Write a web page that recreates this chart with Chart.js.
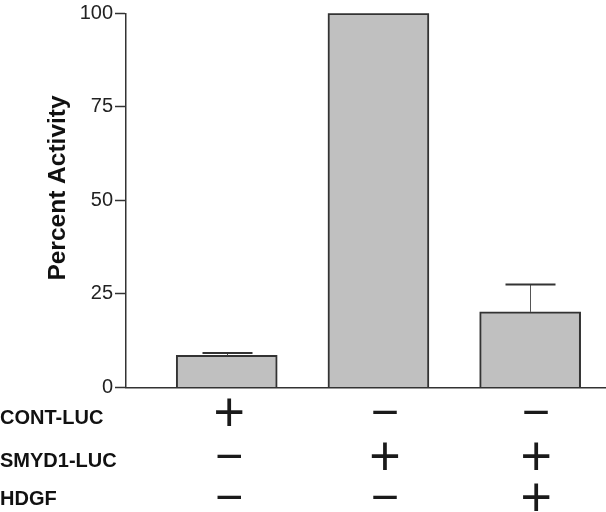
<!DOCTYPE html>
<html>
<head>
<meta charset="utf-8">
<script src="https://cdn.jsdelivr.net/npm/chart.js@4.4.1/dist/chart.umd.min.js"></script>
<style>
  html, body { margin: 0; padding: 0; background: #fff; }
  #wrap { width: 606px; height: 512px; }
</style>
</head>
<body>
<div id="wrap"><canvas id="grafico" width="606" height="512"></canvas></div>
<script>
// dados
const positions = [0, 1, 2];
const percentActivity = [8.6, 100, 20.2];
const errorTop = [9.25, null, 27.5];
const yTicks = [0, 25, 50, 75, 100];

// tabela de condicoes em baixo
const rowNames = ['CONT-LUC', 'SMYD1-LUC', 'HDGF'];
const contLuc = ['+', '\u2212', '\u2212'];
const smyd1Luc = ['\u2212', '+', '+'];
const hdgf = ['\u2212', '\u2212', '+'];

// layout (pixels)
const rowTextBase = [423.5, 467, 505];
const rowSignMid = [412, 456, 497];
const colShift = [2.5, 6.5, 6];

const fontFam = '"Liberation Sans", Arial, sans-serif';
const signFam = '"Open Sans", "Liberation Sans", sans-serif';

const errorBars = {
  id: 'errorBars',
  afterDatasetsDraw(chart) {
    const ctx = chart.ctx;
    const xs = chart.scales.x, ys = chart.scales.y;
    ctx.save();
    errorTop.forEach(function (v, i) {
      if (v == null) return;
      const x = Math.round(xs.getPixelForValue(positions[i])) + 0.5;
      const y0 = ys.getPixelForValue(percentActivity[i]);
      const y1 = ys.getPixelForValue(v);
      ctx.strokeStyle = '#555';
      ctx.lineWidth = 1;
      ctx.beginPath();
      ctx.moveTo(x, y0);
      ctx.lineTo(x, y1);
      ctx.stroke();
      ctx.strokeStyle = '#333';
      ctx.lineWidth = 2;
      ctx.beginPath();
      ctx.moveTo(x - 25, y1);
      ctx.lineTo(x + 25, y1);
      ctx.stroke();
    });
    ctx.restore();
  }
};

const extras = {
  id: 'extras',
  afterDraw(chart) {
    const ctx = chart.ctx;
    const xs = chart.scales.x;
    ctx.save();
    // titulo do eixo y
    ctx.fillStyle = '#111';
    ctx.font = 'bold 24.5px ' + fontFam;
    ctx.textAlign = 'center';
    ctx.textBaseline = 'alphabetic';
    ctx.translate(65, 188);
    ctx.rotate(-Math.PI / 2);
    ctx.fillText('Percent Activity', 0, 0);
    ctx.restore();

    ctx.save();
    ctx.fillStyle = '#111';
    ctx.font = 'bold 20px ' + fontFam;
    ctx.textAlign = 'left';
    ctx.textBaseline = 'alphabetic';
    rowNames.forEach(function (n, r) {
      ctx.fillText(n, 0, rowTextBase[r]);
    });
    const rows = [contLuc, smyd1Luc, hdgf];
    ctx.textAlign = 'center';
    ctx.fillStyle = '#1a1a1a';
    rows.forEach(function (row, r) {
      row.forEach(function (s, c) {
        const size = s === '+' ? 56 : 50;
        ctx.font = '400 ' + size + 'px ' + signFam;
        const x = xs.getPixelForValue(positions[c]) + colShift[c];
        // centro do glifo medido com measureText
        const m = ctx.measureText(s);
        const mid = (m.actualBoundingBoxAscent - m.actualBoundingBoxDescent) / 2;
        ctx.fillText(s, x, rowSignMid[r] + mid);
      });
    });
    ctx.restore();
  }
};

new Chart(document.getElementById('grafico'), {
  type: 'bar',
  data: {
    datasets: [{
      data: positions.map(function (p, i) { return { x: p, y: percentActivity[i] }; }),
      backgroundColor: '#c0c0c0',
      borderColor: '#333',
      borderWidth: 2,
      barThickness: 101
    }]
  },
  options: {
    responsive: false,
    animation: false,
    layout: { padding: { top: 13.3, right: 0, bottom: 124.5, left: 0 } },
    plugins: { legend: { display: false }, tooltip: { enabled: false } },
    scales: {
      x: {
        type: 'linear',
        offset: false,
        min: -0.664,
        max: 2.5,
        ticks: { display: false },
        grid: { display: false, drawTicks: false, offset: false },
        border: { display: true, color: '#333', width: 1.5 },
        afterFit: function (s) { s.height = 0; }
      },
      y: {
        min: 0,
        max: 100,
        afterBuildTicks: function (s) { s.ticks = yTicks.map(function (v) { return { value: v }; }); },
        ticks: {
          color: '#222',
          padding: 2,
          font: { family: fontFam, size: 20 }
        },
        grid: { drawOnChartArea: false, drawTicks: true, tickLength: 11, tickColor: '#333', tickWidth: 1.5 },
        border: { display: true, color: '#333', width: 1.5 },
        afterFit: function (s) { s.width = 126; s.paddingTop = 0; s.paddingBottom = 0; }
      }
    }
  },
  plugins: [errorBars, extras]
});
</script>
</body>
</html>
